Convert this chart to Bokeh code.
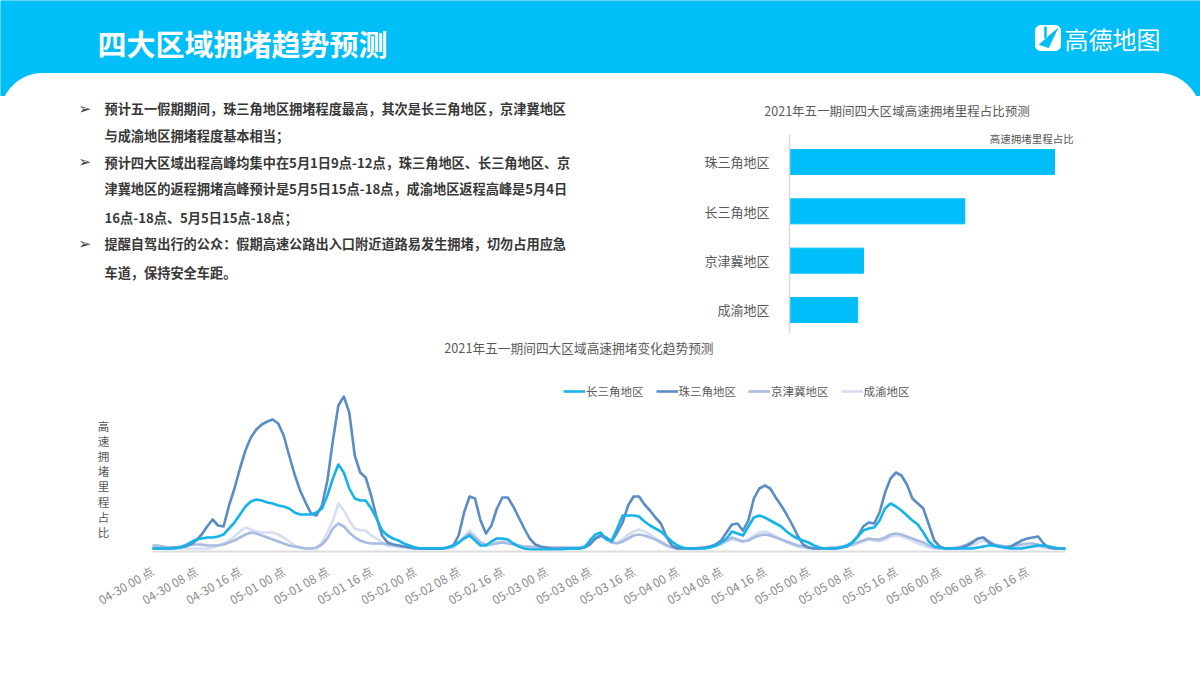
import math
from bokeh.plotting import figure
from bokeh.layouts import column, row
from bokeh.models import Range1d, FixedTicker, Legend, LegendItem
from bokeh.core.properties import value
from bokeh.embed import file_html
from bokeh.resources import INLINE

# ---------------- data ----------------
page_title = "四大区域拥堵趋势预测"
logo_text = "高德地图"
bullet_lines = [
    "预计五一假期期间，珠三角地区拥堵程度最高，其次是长三角地区，京津冀地区",
    "与成渝地区拥堵程度基本相当；",
    "预计四大区域出程高峰均集中在5月1日9点-12点，珠三角地区、长三角地区、京",
    "津冀地区的返程拥堵高峰预计是5月5日15点-18点，成渝地区返程高峰是5月4日",
    "16点-18点、5月5日15点-18点；",
    "提醒自驾出行的公众：假期高速公路出入口附近道路易发生拥堵，切勿占用应急",
    "车道，保持安全车距。",
]
bullet_starts = [0, 2, 5]

bar_title = "2021年五一期间四大区域高速拥堵里程占比预测"
bar_series = "高速拥堵里程占比"
bar_regions = ["珠三角地区", "长三角地区", "京津冀地区", "成渝地区"]
bar_values = [45.5, 30.1, 12.7, 11.7]

line_title = "2021年五一期间四大区域高速拥堵变化趋势预测"
y_label = "高速拥堵里程占比"
series_names = ["长三角地区", "珠三角地区", "京津冀地区", "成渝地区"]
days = ["04-30", "05-01", "05-02", "05-03", "05-04", "05-05", "05-06"]
hours = list(range(168))
tick_hours = list(range(0, 168, 8))
tick_labels = [f"{days[h // 24]} {h % 24:02d} 点" for h in tick_hours]

zsj = [2,2,2,2,3,3,4,6,10,16,24,31,25,24,45,62,82,100,113,121,126,129,131,127,
       115,95,76,60,48,37,35,45,70,110,145,154,138,95,78,73,55,33,15,8,6,5,4,3,
       2,2,2,2,2,2,3,5,15,38,54,52,30,17,25,42,53,53,44,33,22,12,6,4,
       3,2,2,2,2,2,2,3,6,12,15,13,9,18,28,45,54,54,46,40,33,27,14,5,
       2,2,2,2,2,3,4,6,10,18,26,27,20,30,52,62,65,62,53,45,36,26,15,6,
       3,2,2,2,2,2,3,4,8,14,24,28,27,38,58,72,78,75,66,52,47,42,26,10,
       4,2,2,2,3,5,8,12,13,8,5,4,3,4,7,10,12,13,14,7,3,2,2,2]
csj = [2,2,2,2,2,3,5,8,11,12,13,13,14,16,22,28,36,44,49,51,50,48,47,45,
       44,42,38,36,36,36,38,42,55,72,86,78,62,52,50,50,42,32,20,15,12,10,7,5,
       3,2,2,2,2,2,3,5,8,12,15,10,5,5,9,12,12,11,7,4,2,1,1,1,
       1,1,1,1,2,2,2,3,10,16,18,11,10,22,35,35,35,34,29,25,22,19,14,9,
       5,3,2,2,2,2,3,5,8,12,19,17,15,24,33,35,33,30,27,24,19,15,12,10,
       8,5,3,2,2,2,3,5,8,14,20,22,23,30,42,47,44,40,35,30,26,18,9,4,
       3,2,2,2,2,2,2,3,4,5,5,4,3,2,2,2,3,4,5,5,4,3,2,2]
jjj = [5,5,4,3,3,4,5,6,6,6,5,5,5,6,8,10,13,16,18,17,15,13,11,9,
       7,5,4,3,2,2,3,6,12,22,27,24,18,13,10,8,7,7,7,6,6,5,4,3,
       3,2,2,2,2,2,3,4,8,13,17,13,8,6,6,7,8,7,6,5,4,4,3,3,
       3,3,3,3,3,3,3,4,7,12,15,12,8,7,9,12,15,16,15,13,11,8,5,3,
       2,2,2,2,3,3,4,5,7,10,13,11,9,10,13,15,16,15,13,11,9,7,5,4,
       3,2,2,2,3,3,4,5,6,8,10,12,11,11,13,16,17,16,14,12,10,8,5,3,
       2,2,2,3,4,6,9,12,13,9,6,5,4,4,5,6,7,7,6,4,3,2,2,2]
cy = [4,3,3,2,2,2,2,2,2,2,2,3,5,7,10,14,19,23,21,19,18,18,18,16,
      13,9,5,3,2,2,2,8,18,30,47,40,30,22,20,20,15,12,8,5,4,3,3,2,
      2,2,2,2,2,2,2,3,7,14,20,15,8,5,6,8,10,9,7,5,3,2,2,2,
      2,2,2,2,2,2,2,3,6,11,14,11,8,8,11,16,19,21,19,16,12,9,6,3,
      2,2,2,2,2,2,3,4,6,9,11,10,9,11,15,18,19,17,14,11,8,6,4,3,
      2,2,2,2,2,2,3,4,5,7,9,11,10,9,11,14,15,14,12,10,7,5,3,2,
      2,2,2,2,2,3,5,8,10,7,4,3,2,2,3,3,4,4,4,3,2,2,2,2]

# ---------------- styles ----------------
CYAN = "#00BEF8"
FONT = value("Noto Sans CJK SC")
GREY = "#595959"
TXT = "#383838"
line_colors = {"长三角地区": "#14B4EA", "珠三角地区": "#5A8CC6",
               "京津冀地区": "#A8BBE1", "成渝地区": "#D6DEF1"}
line_y = [108.3, 135, 161.7, 188.3, 216.7, 243.3, 271.7]


def bare(p):
    p.grid.visible = False
    p.outline_line_color = None
    p.background_fill_color = "white"
    p.border_fill_color = "white"
    return p


def canvas(w, h, x0, x1, ytop, ybot):
    return bare(figure(width=w, height=h, x_range=Range1d(x0, x1), y_range=Range1d(ybot, ytop),
                       output_backend="svg", toolbar_location=None, min_border=0,
                       x_axis_location=None, y_axis_location=None))


def arrow(p, y):
    p.text(x=[78] * len(y), y=y, text=["➢"] * len(y), text_font=value("DejaVu Sans"),
           text_font_size="15px", text_font_style="bold", text_color=TXT, text_baseline="middle")


# ---------------- header ----------------
hd = canvas(1200, 96, 0, 1200, 0, 96)
hd.quad(left=[0], right=[1200], top=[0], bottom=[100], color=CYAN)
r = 42
top = 73
xs, ys = [0], [130]
for i in range(0, 31):
    t = math.radians(90 * i / 30)
    xs.append(r - r * math.cos(t)); ys.append(top + r - r * math.sin(t))
for i in range(0, 31):
    t = math.radians(90 * i / 30)
    xs.append(1200 - r + r * math.sin(t)); ys.append(top + r - r * math.cos(t))
xs.append(1200); ys.append(130)
hd.patch(xs, ys, color="white")
hd.text(x=[97], y=[42], text=[page_title], text_font=FONT, text_font_size="29px",
        text_font_style="bold", text_color="white", text_baseline="middle")
# logo icon: white rounded square with a cyan paper-plane cut
ir, ix0, ix1, iy0, iy1 = 5, 1035, 1060, 25, 50
ixs, iys = [], []
for cx, cyy, a0 in [(ix1 - ir, iy0 + ir, -90), (ix1 - ir, iy1 - ir, 0),
                    (ix0 + ir, iy1 - ir, 90), (ix0 + ir, iy0 + ir, 180)]:
    for k in range(7):
        a = math.radians(a0 + 15 * k)
        ixs.append(cx + ir * math.cos(a)); iys.append(cyy + ir * math.sin(a))
hd.patch(ixs, iys, color="white")
hd.patch([1039, 1057, 1048], [44, 28, 47], color=CYAN)
hd.line([1045, 1045], [26, 38], color=CYAN, line_width=2.5)
hd.text(x=[1064], y=[38], text=[logo_text], text_font=FONT, text_font_size="24px",
        text_color="white", text_baseline="middle")

# ---------------- strip: first text line + bar chart title ----------------
st = canvas(1200, 28, 0, 1200, 96, 124)
st.text(x=[104], y=[line_y[0]], text=[bullet_lines[0]], text_font=FONT,
        text_font_size="13.2px", text_font_style="bold", text_color=TXT, text_baseline="middle")
arrow(st, [line_y[0]])
st.text(x=[896.5], y=[110], text=[bar_title], text_font=FONT, text_font_size="12.5px",
        text_color=GREY, text_align="center", text_baseline="middle")

# ---------------- bullet text (rest) ----------------
tx = canvas(680, 211, 0, 680, 124, 335)
tx.text(x=[104] * (len(bullet_lines) - 1), y=line_y[1:], text=bullet_lines[1:], text_font=FONT,
        text_font_size="13.2px", text_font_style="bold", text_color=TXT,
        text_baseline="middle")
arrow(tx, [line_y[i] for i in bullet_starts if i > 0])

# ---------------- bar chart ----------------
bp = bare(figure(width=520, height=211, x_range=Range1d(0, 70.57), y_range=Range1d(-0.517, 3.760),
                 output_backend="svg", toolbar_location=None,
                 min_border_left=109, min_border_right=0, min_border_top=0, min_border_bottom=0,
                 x_axis_location=None))
n = len(bar_regions)
bar_pos = [n - 1 - i for i in range(n)]
bp.hbar(y=bar_pos, right=bar_values, left=0, height=0.507, color="#00BEF9")
yax = bp.yaxis[0]
yax.ticker = FixedTicker(ticks=bar_pos)
yax.major_label_overrides = {p: name for p, name in zip(bar_pos, bar_regions)}
yax.bounds = (-0.48, 3.55)
yax.axis_line_color = "#d9d9d9"
yax.axis_line_width = 1.5
yax.major_tick_line_color = None
yax.minor_tick_line_color = None
yax.major_label_standoff = 14
yax.major_label_text_font = "Noto Sans CJK SC"
yax.major_label_text_font_size = "13px"
yax.major_label_text_color = GREY
bp.text(x=[41.6], y=[3.48], text=[bar_series], text_font=FONT, text_font_size="10.5px",
        text_color=GREY, text_align="center", text_baseline="middle")

# ---------------- line chart ----------------
lp = bare(figure(width=1200, height=340, x_range=Range1d(-27.80, 191.70), y_range=Range1d(-1, 215),
                 output_backend="svg", toolbar_location=None,
                 min_border_left=0, min_border_right=0, min_border_top=0, min_border_bottom=124,
                 y_axis_location=None))
data = {"长三角地区": csj, "珠三角地区": zsj, "京津冀地区": jjj, "成渝地区": cy}
renderers = {}
for name in ["成渝地区", "京津冀地区", "珠三角地区", "长三角地区"]:
    renderers[name] = lp.line(hours, data[name], color=line_colors[name], line_width=2.6,
                              line_join="round")
xax = lp.xaxis[0]
xax.ticker = FixedTicker(ticks=tick_hours)
xax.major_label_overrides = {h: lab for h, lab in zip(tick_hours, tick_labels)}
xax.major_label_orientation = math.pi / 6
xax.bounds = (0, 167)
xax.axis_line_color = "#dedede"
xax.axis_line_width = 2
xax.major_tick_line_color = None
xax.minor_tick_line_color = None
xax.major_label_standoff = 12
xax.major_label_text_font = "Noto Sans CJK SC"
xax.major_label_text_font_size = "12px"
xax.major_label_text_color = "#8a8a8a"

lp.text(x=[78.0], y=[203.3], text=[line_title], text_font=FONT, text_font_size="12.7px",
        text_color=GREY, text_align="center", text_baseline="middle")
chars = list(y_label)
lp.text(x=[-8.96] * len(chars), y=[550 - (425 + 15.24 * i) for i in range(len(chars))],
        text=chars, text_font=FONT, text_font_size="11.5px", text_color=GREY,
        text_align="center", text_baseline="middle")

legend = Legend(items=[LegendItem(label=nm, renderers=[renderers[nm]]) for nm in series_names],
                orientation="horizontal", location=(563, 152), glyph_width=22, glyph_height=14,
                label_height=14, label_standoff=1, spacing=12, padding=0, margin=0,
                border_line_color=None, background_fill_alpha=0,
                label_text_font="Noto Sans CJK SC", label_text_font_size="11.5px",
                label_text_color=GREY)
lp.add_layout(legend)

page = column(hd, st, row(tx, bp), lp)
open("out.html", "w").write(file_html(page, INLINE))
